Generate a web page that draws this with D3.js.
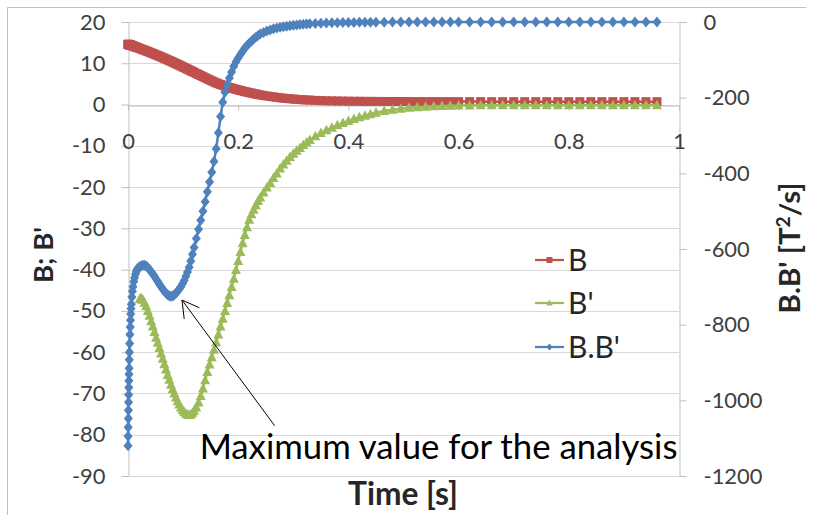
<!DOCTYPE html>
<html><head><meta charset="utf-8">
<script src="https://cdn.jsdelivr.net/npm/d3@7"></script>
<style>
html,body{margin:0;padding:0;background:#fff;}
svg{display:block;}
</style></head>
<body><svg id="c" width="815" height="515"></svg>
<script>
// ---------- data (solver time steps grow with time) ----------
const times = [0,0.0002,0.0004,0.0006,0.0008,0.001,0.0012,0.0014,0.0016,0.0018,0.002,0.0023,0.0026,0.003,0.0035,0.004,0.0045,0.005,0.0055,0.006,
  0.007,0.008,0.009,0.0105,0.012,0.0135,0.015,0.0165,0.018,
  0.021,0.024,0.027,0.030,0.033,0.036,0.039,0.042,0.045,0.048,0.051,0.054,0.057,
  0.060,0.063,0.066,0.069,0.072,0.075,0.078,0.081,0.084,0.087,0.090,0.093,0.096,0.099,0.102,0.105,0.108,0.111,0.114,0.117,0.120,
  0.124,0.128,0.132,0.136,0.140,0.144,0.148,0.152,0.156,0.160,0.164,0.168,0.172,0.176,0.180,0.184,0.188,0.192,0.196,0.200,
  0.204,0.208,0.212,0.216,0.220,0.224,0.228,0.232,0.236,0.240,
  0.246,0.252,0.258,0.264,0.270,0.276,0.282,0.288,0.294,0.300,0.306,0.312,0.318,0.324,0.330,
  0.34,0.35,0.36,0.37,0.38,0.39,0.40,0.41,0.42,0.43,0.44,0.45,
  0.465,0.48,0.495,0.51,0.525,0.54,0.555,0.57,0.585,0.60,
  0.62,0.64,0.66,0.68,0.70,0.72,0.74,0.76,0.78,0.80,0.82,0.84,0.86,0.88,0.90,0.92,0.94,0.96];
const seriesB = [14.6,14.59,14.58,14.57,14.56,14.55,14.55,14.54,14.53,14.52,14.51,14.5,14.48,14.46,14.44,14.42,14.4,14.38,14.35,14.33,
  14.29,14.24,14.19,14.12,14.05,13.98,13.9,13.83,13.76,
  13.61,13.46,13.31,13.16,13.01,12.85,12.69,12.53,12.37,12.21,12.04,11.88,11.71,
  11.54,11.37,11.19,11.02,10.84,10.66,10.48,10.3,10.11,9.93,9.74,9.55,9.36,9.16,8.97,8.78,8.58,8.39,8.19,8.0,7.8,
  7.54,7.28,7.02,6.76,6.5,6.24,5.99,5.74,5.49,5.25,5.05,4.85,4.66,4.47,4.3,4.14,3.98,3.83,3.69,3.55,
  3.41,3.27,3.14,3.02,2.9,2.78,2.66,2.55,2.44,2.33,
  2.2,2.08,1.96,1.85,1.74,1.64,1.55,1.47,1.4,1.33,1.27,1.21,1.16,1.11,1.07,
  1.01,0.96,0.92,0.89,0.86,0.84,0.82,0.8,0.79,0.78,0.77,0.76,
  0.75,0.74,0.74,0.73,0.73,0.72,0.72,0.72,0.71,0.71,
  0.71,0.71,0.7,0.7,0.7,0.7,0.7,0.7,0.7,0.7,0.7,0.7,0.7,0.7,0.7,0.7,0.7,0.7];
const seriesBp = [null,null,null,null,null,null,null,null,null,null,null,null,null,null,null,null,null,null,null,null,
  null,null,null,null,null,null,null,null,null,
  -47.2,-46.9,-47.3,-48.0,-48.9,-50.0,-51.2,-52.5,-53.8,-55.1,-56.5,-57.7,-59.0,
  -60.3,-61.6,-62.9,-64.2,-65.5,-66.7,-67.9,-69.0,-70.0,-71.0,-71.9,-72.7,-73.4,-74.0,-74.5,-74.9,-75.1,-75.2,-75.1,-74.7,-74.2,
  -73.4,-72.2,-70.6,-68.8,-66.8,-64.8,-63.0,-61.2,-59.4,-57.6,-55.7,-53.8,-51.9,-50.0,-48.1,-46.2,-44.2,-42.2,-40.1,-37.9,
  -35.7,-33.6,-31.6,-29.7,-27.9,-26.6,-25.5,-24.4,-23.4,-22.5,
  -21.3,-20.1,-19.0,-17.8,-16.7,-15.5,-14.5,-13.6,-12.7,-11.9,-11.2,-10.5,-9.8,-9.2,-8.6,
  -7.7,-6.9,-6.2,-5.6,-5.0,-4.5,-4.0,-3.5,-3.1,-2.7,-2.35,-2.0,
  -1.55,-1.25,-1.0,-0.8,-0.65,-0.52,-0.42,-0.34,-0.28,-0.24,
  -0.21,-0.2,-0.2,-0.2,-0.2,-0.2,-0.2,-0.2,-0.2,-0.2,-0.2,-0.2,-0.2,-0.2,-0.2,-0.2,-0.2,-0.2];
const seriesBBp = [-1120,-1095,-1071,-1048,-1026,-1005,-985,-966,-948,-931,-915,-893,-873,-850,-826,-806,-788,-772,-758,-746,
  -727,-712,-700,-686,-676,-667,-660,-654,-650,
  -647,-644,-643,-643,-645,-649,-654,-660,-666,-672,-679,-686,-693,
  -700,-706,-712,-717,-721,-724,-725,-724,-721,-717,-712,-706,-700,-692,-683,-672,-661,-648,-632,-614,-596,
  -572,-548,-524,-500,-475,-449,-423,-397,-369,-335,-293,-250,-212,-186,-166,-148,-132,-117,-105,-95,
  -86,-77,-69,-62,-56,-51,-45,-40,-36,-32,
  -28,-24,-21,-18,-16,-14,-12.5,-11,-9.7,-8.6,-7.6,-6.7,-5.9,-5.2,-4.6,
  -3.8,-3.1,-2.6,-2.1,-1.8,-1.5,-1.2,-1.0,-0.85,-0.7,-0.6,-0.5,
  -0.4,-0.32,-0.26,-0.21,-0.17,-0.14,-0.12,-0.1,-0.09,-0.08,
  -0.07,-0.06,-0.05,-0.05,-0.05,-0.05,-0.05,-0.05,-0.05,-0.05,-0.05,-0.05,-0.05,-0.05,-0.05,-0.05,-0.05,-0.05];
const seriesNames = ["B","B'","B.B'"];
const leftTicks = [20,10,0,-10,-20,-30,-40,-50,-60,-70,-80,-90];
const rightTicks = [0,-200,-400,-600,-800,-1000,-1200];
const xTicks = [0,0.2,0.4,0.6,0.8,1];
const xTickLabels = ["0","0.2","0.4","0.6","0.8","1"];
const annotationText = "Maximum value for the analysis";
const annotationPoint = {t:0.098, v:-735};
const annotationTextAt = {t:0.13, v:-85.8};

// ---------- layout ----------
const svg = d3.select("#c");
const FONT = "Lato, 'Open Sans', sans-serif";
const L = 128, R = 679, T = 22, Bt = 476;
const x = d3.scaleLinear().domain([0,1]).range([L,R]);
const yL = d3.scaleLinear().domain([-90,20]).range([Bt,T]);
const yR = d3.scaleLinear().domain([-1200,0]).range([Bt,T]);

// chart border (top/left visible)
svg.append("path").attr("d","M7.5,520V7.5H806").attr("fill","none").attr("stroke","#bfbfbf").attr("stroke-width",1);

// gridlines
svg.append("g").selectAll("line").data(leftTicks).join("line")
  .attr("x1",L).attr("x2",R).attr("y1",d=>Math.round(yL(d))+0.5).attr("y2",d=>Math.round(yL(d))+0.5)
  .attr("stroke","#d9d9d9").attr("stroke-width",1);

function fitSize(text, weight, target){
  const t = svg.append("text").attr("font-family",FONT).attr("font-weight",weight).attr("font-size",100).text(text);
  const w = t.node().getComputedTextLength(); t.remove();
  return 100*target/w;
}
const tickFS = fitSize("-1200","normal",59);
const fmt = d => String(d);

function styleAxis(g){
  g.selectAll(".domain").attr("stroke","#bfbfbf");
  g.selectAll(".tick line").attr("stroke","#bfbfbf");
  g.selectAll("text").attr("font-family",FONT).attr("font-size",tickFS).attr("fill","#404040");
}
const gL = svg.append("g").attr("transform",`translate(${L+0.5},0)`)
  .call(d3.axisLeft(yL).tickValues(leftTicks).tickSize(7).tickSizeOuter(0).tickPadding(16).tickFormat(fmt));
styleAxis(gL);
const gR = svg.append("g").attr("transform",`translate(${R+0.5},0)`)
  .call(d3.axisRight(yR).tickValues(rightTicks).tickSize(7).tickSizeOuter(0).tickPadding(17).tickFormat(fmt));
styleAxis(gR);
const gX = svg.append("g").attr("transform",`translate(0,${Math.round(yL(0))+0.5})`)
  .call(d3.axisBottom(x).tickValues(xTicks).tickSize(5).tickSizeOuter(0).tickPadding(23).tickFormat((d,i)=>xTickLabels[i]));
styleAxis(gX);

// ---------- series ----------
const rows = times.map((t,i)=>({t, b:seriesB[i], bp:seriesBp[i], bbp:seriesBBp[i]}));
const series = [
  {name:seriesNames[0], key:"b", y:yL, color:"#C0504D", sym:"M-4.5,-4.5H4.5V4.5H-4.5Z"},
  {name:seriesNames[1], key:"bp", y:yL, color:"#9BBB59", sym:"M0,-5.5L5,4L-5,4Z"},
  {name:seriesNames[2], key:"bbp", y:yR, color:"#4F81BD", sym:"M0,-5.5L4.5,0L0,5.5L-4.5,0Z"}
];
series.forEach(s=>{
  const pts = rows.filter(r=>r[s.key]!==null && r[s.key]!==undefined);
  const line = d3.line().x(r=>x(r.t)).y(r=>s.y(r[s.key]));
  const g = svg.append("g");
  g.append("path").attr("d",line(pts)).attr("fill","none").attr("stroke",s.color).attr("stroke-width",2.5).attr("stroke-linejoin","round");
  g.selectAll("path.m").data(pts).join("path").attr("class","m")
    .attr("transform",r=>`translate(${x(r.t)},${s.y(r[s.key])})`).attr("d",s.sym).attr("fill",s.color);
});

// ---------- legend ----------
const legFS = fitSize("B.B'","normal",52);
const legY = [260,303,347];
const smallSyms = ["M-3,-3H3V3H-3Z", "M0,-3.5L3.2,2.5L-3.2,2.5Z", "M0,-3.5L3,0L0,3.5L-3,0Z"];
series.forEach((s,i)=>{
  const g = svg.append("g").attr("transform",`translate(535,${legY[i]})`);
  g.append("line").attr("x1",0).attr("x2",29).attr("stroke",s.color).attr("stroke-width",2.25);
  g.append("path").attr("transform","translate(14.5,0)").attr("d",smallSyms[i]).attr("fill",s.color);
  g.append("text").attr("x",33).attr("dy","0.36em").attr("font-family",FONT).attr("font-size",legFS).attr("fill","#262626").text(s.name);
});

// ---------- axis titles ----------
const tFS = fitSize("Time [s]","bold",110);
svg.append("text").attr("x",403).attr("y",505).attr("text-anchor","middle").attr("font-family",FONT)
  .attr("font-weight","bold").attr("font-size",tFS).attr("fill","#262626").text("Time [s]");
const lFS = fitSize("B; B'","bold",56);
svg.append("text").attr("transform","translate(53,255) rotate(-90)").attr("text-anchor","middle").attr("font-family",FONT)
  .attr("font-weight","bold").attr("font-size",lFS).attr("fill","#262626").text("B; B'");
const rFS = fitSize("B.B' [T2/s]","bold",137);
const rt = svg.append("text").attr("transform","translate(800,248) rotate(-90)").attr("text-anchor","middle").attr("font-family",FONT)
  .attr("font-weight","bold").attr("font-size",rFS).attr("fill","#262626");
rt.append("tspan").text("B.B' [T");
rt.append("tspan").attr("font-size",rFS*0.65).attr("dy",-rFS*0.35).text("2");
rt.append("tspan").attr("dy",rFS*0.35).text("/s]");

// ---------- annotation ----------
const aFS = fitSize(annotationText,"normal",478);
const tx = x(annotationTextAt.t), ty = yL(annotationTextAt.v);
svg.append("text").attr("x",tx).attr("y",ty).attr("font-family",FONT).attr("font-size",aFS).attr("fill","#000").text(annotationText);
const tip = [x(annotationPoint.t), yR(annotationPoint.v)];
const tail = [tx+75, ty-33];
svg.append("line").attr("x1",tail[0]).attr("y1",tail[1]).attr("x2",tip[0]).attr("y2",tip[1]).attr("stroke","#000").attr("stroke-width",1);
const ang = Math.atan2(tail[1]-tip[1], tail[0]-tip[0]);
const hl = 19, ha = 0.52;
svg.append("path").attr("d",`M${tip[0]+hl*Math.cos(ang-ha)},${tip[1]+hl*Math.sin(ang-ha)}L${tip[0]},${tip[1]}L${tip[0]+hl*Math.cos(ang+ha)},${tip[1]+hl*Math.sin(ang+ha)}`)
  .attr("fill","none").attr("stroke","#000").attr("stroke-width",1);
</script>
</body></html>
